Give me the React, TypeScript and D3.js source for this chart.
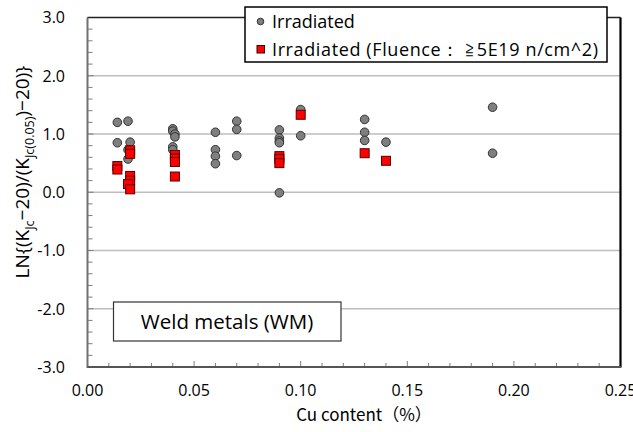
import React from "react";
import * as d3 from "d3";

const W = 633;
const H = 432;

// Gray circles: Irradiated
const circleCu = [
  0.014, 0.014,
  0.019, 0.020, 0.019, 0.019,
  0.040, 0.040, 0.041, 0.041, 0.040, 0.040,
  0.060, 0.060, 0.060, 0.060,
  0.070, 0.070, 0.070,
  0.090, 0.090, 0.090, 0.090, 0.090,
  0.100, 0.100,
  0.130, 0.130, 0.130,
  0.140,
  0.190, 0.190,
];
const circleVal = [
  1.20, 0.85,
  1.22, 0.86, 0.73, 0.57,
  1.09, 1.05, 1.00, 0.95, 0.78, 0.73,
  1.03, 0.73, 0.62, 0.49,
  1.22, 1.08, 0.63,
  1.07, 0.93, 0.88, 0.85, -0.01,
  1.42, 0.97,
  1.25, 1.03, 0.89,
  0.86,
  1.46, 0.67,
];

// Red squares: Irradiated (Fluence >= 5E19)
const squareCu = [
  0.014, 0.014,
  0.020, 0.020, 0.020, 0.020, 0.019, 0.020,
  0.041, 0.041, 0.041, 0.041,
  0.090, 0.090, 0.090,
  0.100,
  0.130,
  0.140,
];
const squareVal = [
  0.45, 0.39,
  0.72, 0.66, 0.28, 0.20, 0.14, 0.05,
  0.64, 0.58, 0.52, 0.27,
  0.62, 0.57, 0.50,
  1.33,
  0.67,
  0.54,
];

const xTicks = [0, 0.05, 0.1, 0.15, 0.2, 0.25];
const yTicks = [-3, -2, -1, 0, 1, 2, 3];

const FONT = "'Open Sans', sans-serif";

export default function App() {
  const left = 87.5;
  const right = 620.5;
  const top = 17.5;
  const bottom = 367;

  const x = d3.scaleLinear().domain([0, 0.25]).range([left, right]);
  const y = d3.scaleLinear().domain([-3, 3]).range([bottom, top]);

  const xMinor = d3.range(0, 26).map((i) => i / 100);
  const yMinor = d3.range(-15, 16).map((i) => i / 5);

  return (
    <svg
      width={W}
      height={H}
      style={{ position: "absolute", left: 0, top: 0, background: "#fff" }}
    >
      <rect x={0} y={0} width={W} height={H} fill="#fff" />
      {/* gridlines */}
      {yTicks
        .filter((t) => t > -3 && t < 3)
        .map((t) => (
          <line
            key={"g" + t}
            x1={left}
            x2={right}
            y1={y(t)}
            y2={y(t)}
            stroke="#bdbdbd"
            strokeWidth={1.5}
          />
        ))}
      {/* minor ticks y */}
      {yMinor.map((t, i) => (
        <line
          key={"ym" + i}
          x1={left}
          x2={left + (Math.abs(t - Math.round(t)) < 1e-6 ? 6 : 5)}
          y1={y(t)}
          y2={y(t)}
          stroke="#7f7f7f"
          strokeWidth={1}
        />
      ))}
      {/* minor ticks x */}
      {xMinor.map((t, i) => (
        <line
          key={"xm" + i}
          x1={x(t)}
          x2={x(t)}
          y1={bottom}
          y2={bottom - (i % 5 === 0 ? 6 : 4)}
          stroke="#7f7f7f"
          strokeWidth={1}
        />
      ))}
      {/* borders */}
      <line x1={left} x2={right} y1={top} y2={top} stroke="#222" strokeWidth={1.5} />
      <line x1={right} x2={right} y1={top} y2={bottom} stroke="#000" strokeWidth={2.2} />
      <line x1={left} x2={left} y1={top} y2={bottom + 1} stroke="#707070" strokeWidth={2} />
      <line x1={left} x2={right + 1} y1={bottom} y2={bottom} stroke="#555" strokeWidth={2} />

      {/* y tick labels */}
      {yTicks.map((t) => (
        <text
          key={"yl" + t}
          x={65}
          y={y(t)}
          dy="0.36em"
          textAnchor="end"
          fontFamily={FONT}
          fontSize={16}
          fill="#000"
        >
          {t.toFixed(1)}
        </text>
      ))}
      {/* x tick labels */}
      {xTicks.map((t) => (
        <text
          key={"xl" + t}
          x={x(t)}
          y={390}
          dy="0.36em"
          textAnchor="middle"
          fontFamily={FONT}
          fontSize={16}
          fill="#000"
        >
          {t.toFixed(2)}
        </text>
      ))}

      {/* circles */}
      {circleCu.map((c, i) => (
        <circle
          key={"c" + i}
          cx={x(c)}
          cy={y(circleVal[i])}
          r={4.3}
          fill="#7f7f7f"
          stroke="#333"
          strokeWidth={1}
        />
      ))}
      {/* squares */}
      {squareCu.map((c, i) => (
        <rect
          key={"s" + i}
          x={x(c) - 4.5}
          y={y(squareVal[i]) - 4.5}
          width={9}
          height={9}
          fill="#ff0000"
          stroke="#5a0000"
          strokeWidth={1}
        />
      ))}

      {/* legend */}
      <rect x={245} y={7} width={362} height={55} fill="#fff" stroke="#000" strokeWidth={1.5} />
      <circle cx={260.5} cy={21.5} r={3.3} fill="#7f7f7f" stroke="#333" strokeWidth={1} />
      <text x={272} y={21.5} dy="0.36em" fontFamily={FONT} fontSize={18} fill="#000">
        Irradiated
      </text>
      <rect x={257} y={45.5} width={7.5} height={7.5} fill="#ff0000" stroke="#400000" strokeWidth={1} />
      <text
        x={272}
        y={49.5}
        dy="0.36em"
        fontFamily={FONT}
        fontSize={18}
        fill="#000"
        textLength={326}
        lengthAdjust="spacing"
      >
        Irradiated (Fluence： ≧5E19 n/cm^2)
      </text>

      {/* weld metals box */}
      <rect x={113.5} y={302} width={227.5} height={39} fill="#fff" stroke="#333" strokeWidth={1.2} />
      <text
        x={227}
        y={322}
        dy="0.36em"
        textAnchor="middle"
        fontFamily={FONT}
        fontSize={20.5}
        fill="#000"
      >
        Weld metals (WM)
      </text>

      {/* x axis title */}
      <text
        x={364}
        y={415}
        dy="0.36em"
        textAnchor="middle"
        fontFamily="'Noto Sans CJK JP', sans-serif"
        fontSize={17}
        fill="#000"
      >
        Cu content（%）
      </text>

      {/* y axis title */}
      <text
        transform="translate(29,172) rotate(-90)"
        textAnchor="middle"
        fontFamily={FONT}
        fontSize={19}
        fill="#000"
      >
        <tspan>LN{"{"}(K</tspan>
        <tspan fontSize={12.5} dy={5}>Jc</tspan>
        <tspan dy={-5}>−20)/(K</tspan>
        <tspan fontSize={12.5} dy={5}>Jc(0.05)</tspan>
        <tspan dy={-5}>)−20){"}"}</tspan>
      </text>
    </svg>
  );
}
